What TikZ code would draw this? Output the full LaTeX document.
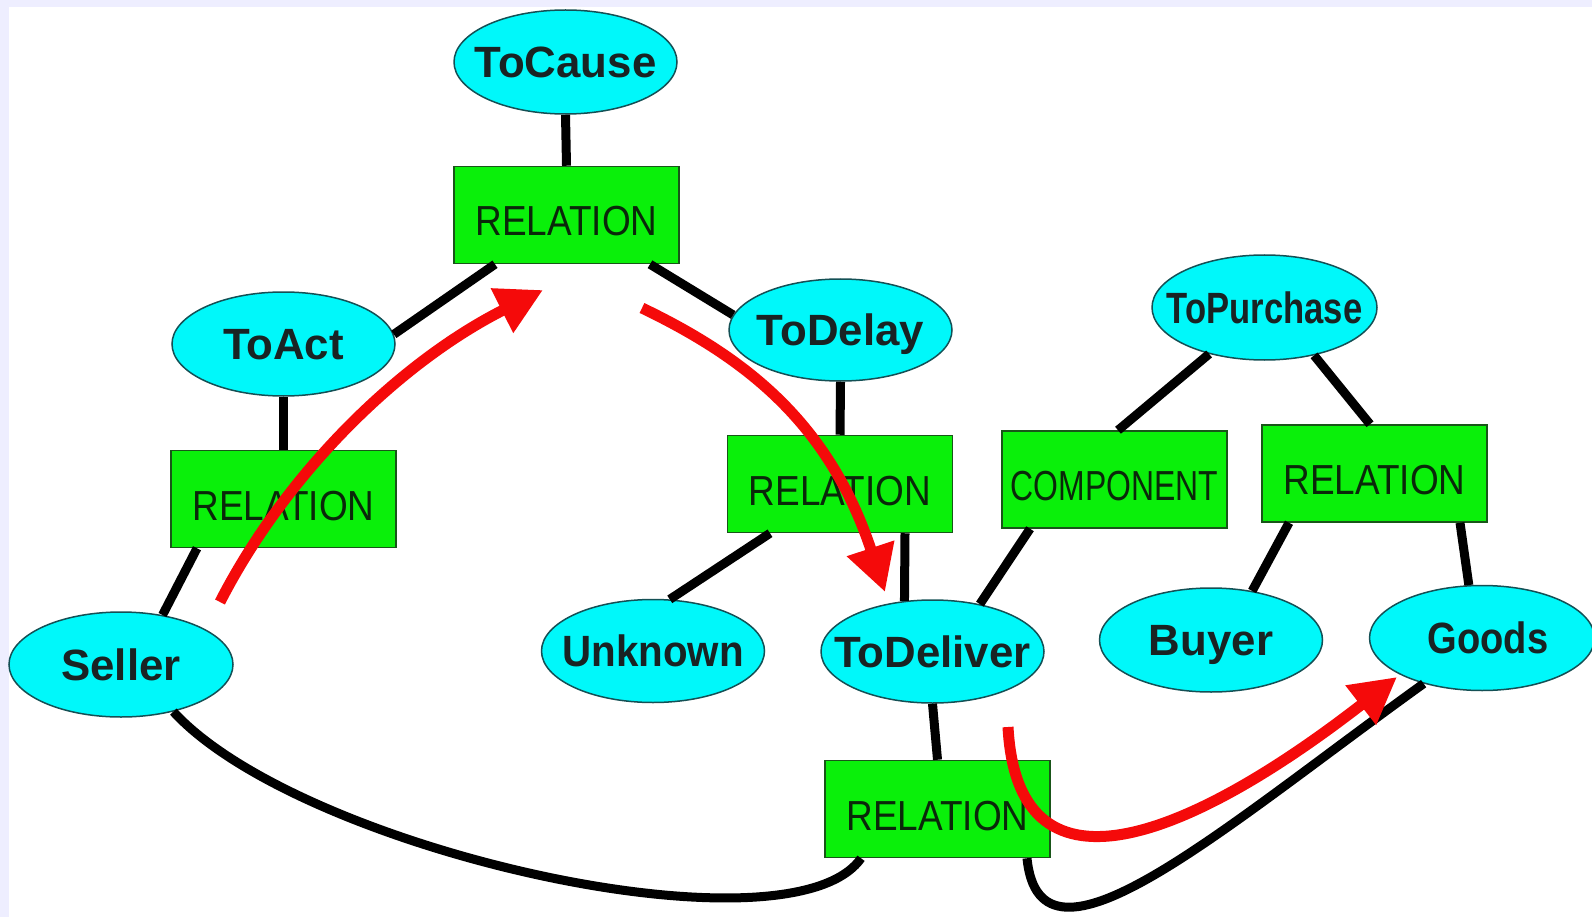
\documentclass[tikz,border=0pt]{standalone}
\usepackage{fontspec}
\setmainfont{Liberation Sans}
\usetikzlibrary{shapes.geometric,arrows.meta}

\definecolor{bgband}{RGB}{238,238,255}
\definecolor{entfill}{RGB}{0,248,250}
\definecolor{entline}{RGB}{20,80,85}
\definecolor{enttext}{RGB}{25,35,35}
\definecolor{relfill}{RGB}{10,240,10}
\definecolor{relline}{RGB}{25,85,25}
\definecolor{reltext}{RGB}{10,40,10}
\definecolor{arrowred}{RGB}{245,10,10}

\newcommand\entfont{\fontsize{43.8pt}{50pt}\selectfont\bfseries}
\newcommand\relfont{\fontsize{42pt}{48pt}\selectfont}
% ellipse label: zero-width box so the ellipse keeps its set size
\newcommand\etext[2][1]{\makebox[0pt]{\scalebox{#1}[1]{#2}}}
% narrowed box label
\newcommand\rtext[2][0.88]{\scalebox{#1}[1]{#2}}

\begin{document}
\begin{tikzpicture}[x=1pt,y=-1pt,
  ent/.style={ellipse, draw=entline, line width=1.5pt, fill=entfill,
    minimum width=223pt, minimum height=104pt, inner sep=0pt,
    text height=31pt, text depth=0pt, font=\entfont, text=enttext},
  rel/.style={rectangle, draw=relline, line width=1.5pt, fill=relfill,
    minimum width=225pt, minimum height=97pt, inner sep=0pt,
    text height=42pt, text depth=0pt, font=\relfont, text=reltext},
  link/.style={draw=black, line width=9pt},
  flow/.style={draw=arrowred, line width=11pt,
    -{Triangle[length=46pt,width=47pt]}}]

\useasboundingbox (0,0) rectangle (1592,917);
\fill[bgband] (0,0) rectangle (1592,917);
\fill[white] (9,7) rectangle (1592,917);

% concepts and relations
\node[ent] (toCause) at (565.5,62) {\etext{ToCause}};
\node[rel] (relTop) at (566.5,215) {\rtext{RELATION}};
\node[ent] (toAct) at (283.5,344) {\etext{ToAct}};
\node[rel] (relLeft) at (283.5,499) {\rtext{RELATION}};
\node[ent, minimum height=102pt] (toDelay) at (840.5,330) {\etext{ToDelay}};
\node[rel] (relMid) at (840,484) {\rtext{RELATION}};
\node[ent, minimum height=103pt] (unknown) at (653,651) {\etext[0.92]{Unknown}};
\node[ent, minimum height=103pt] (toDeliver) at (932.5,651.5) {\etext{ToDeliver}};
\node[rel] (component) at (1114.5,479.5) {\rtext[0.76]{COMPONENT}};
\node[ent, minimum width=225pt, minimum height=105pt] (toPurchase) at (1264.5,307.5) {\etext[0.79]{ToPurchase}};
\node[rel] (relRight) at (1374.5,473.5) {\rtext{RELATION}};
\node[ent] (buyer) at (1211,640) {\etext{Buyer}};
\node[ent, minimum width=225pt, minimum height=105pt] (goods) at (1482,638) {\etext[0.87]{\hspace{14pt}Goods}};
\node[rel] (relBot) at (937.5,809) {\rtext{RELATION}};
\node[ent, minimum width=224pt, minimum height=105pt] (seller) at (121,664.5) {\etext{Seller}};

% graph edges
\draw[link] (toCause.south) -- (relTop.north);
\draw[link] ([xshift=-71.5pt]relTop.south) -- (toAct.5);
\draw[link] ([xshift=83.5pt]relTop.south) -- (toDelay.172);
\draw[link] (toAct.south) -- (relLeft.north);
\draw[link] ([xshift=-86.5pt]relLeft.south) -- (seller.50);
\draw[link] (toDelay.south) -- (relMid.north);
\draw[link] ([xshift=-70pt]relMid.south) -- (unknown.72);
\draw[link] ([xshift=65pt]relMid.south) -- (toDeliver.119);
\draw[link] ([xshift=-84.5pt]component.south) -- (toDeliver.45);
\draw[link] (toPurchase.-140) -- ([xshift=3.5pt]component.north);
\draw[link] (toPurchase.-44) -- ([xshift=-4.5pt]relRight.north);
\draw[link] ([xshift=-85.5pt]relRight.south) -- (buyer.50);
\draw[link] ([xshift=85.5pt]relRight.south) -- (goods.104);
\draw[link] (toDeliver.south) -- (relBot.north);
\draw[link] (seller.-42) .. controls (300,850) and (790,960) .. ([xshift=-76.5pt]relBot.south);
\draw[link] ([xshift=89.5pt]relBot.south) .. controls (1040,990) and (1220,830) .. (goods.-142);

% red flow arrows
\coordinate (f1s) at (220,602);
\coordinate (f1e) at (543,290);
\coordinate (f2s) at (642,308);
\coordinate (f2e) at (885,592);
\coordinate (f3s) at (1008,727);
\coordinate (f3e) at (1397,677);
\draw[flow] (f1s) .. controls (286,473) and (400,362) .. (f1e);
\draw[flow] (f2s) .. controls (746,358) and (829,423) .. (f2e);
\draw[flow] (f3s) .. controls (1018,915) and (1200,830) .. (f3e);

\end{tikzpicture}
\end{document}
